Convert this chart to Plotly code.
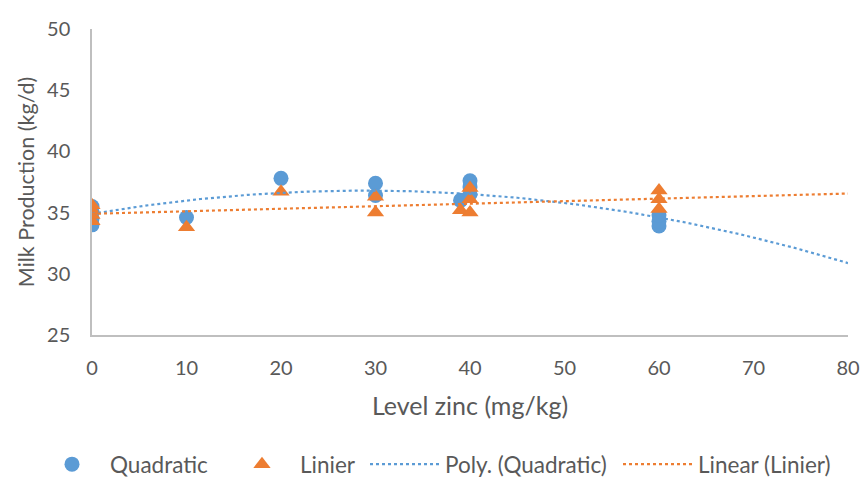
import numpy as np
import plotly.graph_objects as go

# Data
quad_x = [0, 0, 0, 0, 10, 20, 30, 30, 39, 40, 40, 40, 60, 60, 60]
quad_y = [34.0, 34.5, 35.0, 35.5, 34.6, 37.8, 37.4, 36.4, 36.0, 37.6, 37.1, 36.5, 33.9, 34.3, 34.8]
lin_x = [0, 0, 0, 0, 10, 20, 30, 30, 39, 40, 40, 40, 60, 60, 60]
lin_y = [34.3, 34.8, 35.2, 35.6, 33.8, 36.7, 36.3, 35.0, 35.2, 37.0, 36.1, 35.0, 36.8, 36.1, 35.3]

# Trendline coefficients (Excel trendlines)
poly_coef = [-0.00227, 0.1313, 34.9]   # a*x^2 + b*x + c
lin_coef = [0.0207, 34.9]              # m*x + c
trend_x = np.linspace(0, 80, 161)

x_ticks = [0, 10, 20, 30, 40, 50, 60, 70, 80]
y_ticks = [25, 30, 35, 40, 45, 50]

BLUE = "#5B9BD5"
ORANGE = "#ED7D31"
GRAY = "#595959"
FONT = "Lato"

fig = go.Figure()
fig.add_trace(go.Scatter(x=quad_x, y=quad_y, mode="markers", name="Quadratic", legend="legend2",
                         marker=dict(symbol="circle", size=15, color=BLUE)))
fig.add_trace(go.Scatter(x=lin_x, y=lin_y, mode="markers", name="Linier", legend="legend3",
                         marker=dict(symbol="triangle-up", size=15, color=ORANGE)))
fig.add_trace(go.Scatter(x=trend_x, y=np.polyval(poly_coef, trend_x), mode="lines",
                         name="Poly. (Quadratic)", legend="legend4",
                         line=dict(color=BLUE, width=2.2, dash="dot")))
fig.add_trace(go.Scatter(x=trend_x, y=np.polyval(lin_coef, trend_x), mode="lines",
                         name="Linear (Linier)", legend="legend5",
                         line=dict(color=ORANGE, width=2.2, dash="dot")))

W, H = 864.0, 486.0
def cx(xpix):
    return xpix / W

leg_common = dict(orientation="h", xref="container", yref="container",
                  yanchor="bottom", y=0, xanchor="left",
                  font=dict(size=22.5, color=GRAY, family=FONT), bgcolor="rgba(0,0,0,0)")

fig.update_layout(
    width=864, height=486,
    margin=dict(l=92, r=16, t=29, b=151, autoexpand=False),
    paper_bgcolor="white", plot_bgcolor="white",
    font=dict(family=FONT, size=20, color=GRAY),
    showlegend=True,
    legend2=dict(leg_common, x=cx(34), itemwidth=66),
    legend3=dict(leg_common, x=cx(224), itemwidth=66),
    legend4=dict(leg_common, x=cx(365), itemwidth=70),
    legend5=dict(leg_common, x=cx(618), itemwidth=70),
    xaxis=dict(range=[0, 80], tickvals=x_ticks, showgrid=False, zeroline=False,
               showline=True, linecolor="#BFBFBF", linewidth=1.5, automargin=False,
               ticklabelstandoff=14,
               title=dict(text="Level zinc (mg/kg)", font=dict(size=25, color=GRAY), standoff=20),
               tickfont=dict(size=20, color=GRAY)),
    yaxis=dict(range=[25, 50], tickvals=y_ticks, showgrid=False, zeroline=False,
               showline=True, linecolor="#BFBFBF", linewidth=1.5, automargin=False,
               title=dict(text="Milk Production (kg/d)", font=dict(size=21.5, color=GRAY), standoff=7),
               tickfont=dict(size=20, color=GRAY), ticklabelstandoff=16),
)

fig.write_html("out.html", config={"displayModeBar": False},
               post_script="document.body.style.margin='0';")
